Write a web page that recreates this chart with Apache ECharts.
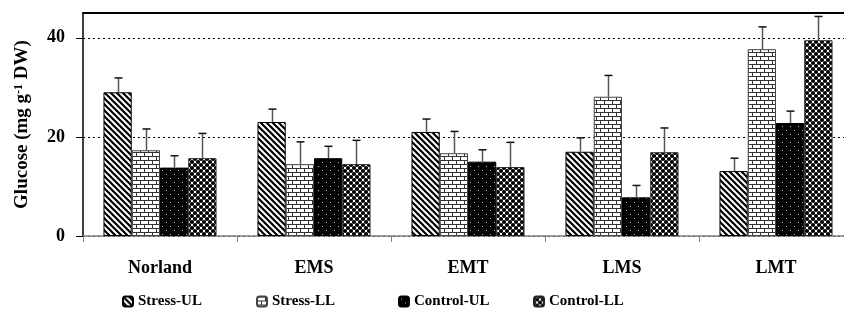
<!DOCTYPE html>
<html>
<head>
<meta charset="utf-8">
<script src="https://cdn.jsdelivr.net/npm/echarts@6/dist/echarts.min.js"></script>
<style>
  html, body { margin: 0; padding: 0; background: #fff; overflow: hidden; }
  #chart { width: 853px; height: 320px; }
</style>
</head>
<body>
<div id="chart"></div>
<script>
const categories = ['Norland', 'EMS', 'EMT', 'LMS', 'LMT'];
const seriesNames = ['Stress-UL', 'Stress-LL', 'Control-UL', 'Control-LL'];
const stressUL = [29.0, 23.0, 21.0, 17.0, 13.1];
const stressLL = [17.3, 14.5, 16.7, 28.1, 37.7];
const controlUL = [13.8, 15.7, 15.0, 7.8, 22.8];
const controlLL = [15.7, 14.5, 13.9, 16.9, 39.5];
const errStressUL = [2.9, 2.6, 2.6, 2.8, 2.6];
const errStressLL = [4.3, 4.5, 4.4, 4.3, 4.5];
const errControlUL = [2.4, 2.4, 2.4, 2.4, 2.4];
const errControlLL = [5.0, 4.8, 5.0, 4.9, 4.8];
const yTicks = [0, 20, 40];

const values = [stressUL, stressLL, controlUL, controlLL];
const errors = [errStressUL, errStressLL, errControlUL, errControlLL];

function makeTile(w, h, draw) {
  const c = document.createElement('canvas');
  c.width = w; c.height = h;
  const ctx = c.getContext('2d');
  draw(ctx, w, h);
  return c;
}
const patDiag = makeTile(6, 6, (ctx, w, h) => {
  ctx.fillStyle = '#fff'; ctx.fillRect(0, 0, w, h);
  ctx.strokeStyle = '#000'; ctx.lineWidth = 2.2;
  ctx.beginPath();
  ctx.moveTo(-1, -1); ctx.lineTo(w + 1, h + 1);
  ctx.moveTo(-1, h - 1); ctx.lineTo(1, h + 1);
  ctx.moveTo(w - 1, -1); ctx.lineTo(w + 1, 1);
  ctx.stroke();
});
const patBrick = makeTile(8, 8, (ctx, w, h) => {
  ctx.fillStyle = '#fff'; ctx.fillRect(0, 0, w, h);
  ctx.fillStyle = '#333';
  ctx.fillRect(0, 0, w, 1);
  ctx.fillRect(0, 4, w, 1);
  ctx.fillRect(0, 0, 1, 4);
  ctx.fillRect(4, 4, 1, 4);
});
const patDots = makeTile(8, 8, (ctx, w, h) => {
  ctx.fillStyle = '#000'; ctx.fillRect(0, 0, w, h);
  ctx.fillStyle = '#bbb';
  ctx.fillRect(2, 2, 1, 1);
  ctx.fillRect(6, 6, 1, 1);
});
const patCircles = makeTile(6, 6, (ctx, w, h) => {
  ctx.fillStyle = '#fff'; ctx.fillRect(0, 0, w, h);
  ctx.fillStyle = '#000';
  [[0, 0], [6, 0], [0, 6], [6, 6], [3, 3]].forEach(p => {
    ctx.beginPath(); ctx.arc(p[0], p[1], 2.1, 0, Math.PI * 2); ctx.fill();
  });
});
const patterns = [patDiag, patBrick, patDots, patCircles];
const borders = ['#000', '#444', '#000', '#222'];
const legendLeft = [117, 251, 393, 528];

const GAP = 0.266;
const chart = echarts.init(document.getElementById('chart'), null, { renderer: 'canvas' });

const barSeries = seriesNames.map((name, s) => ({
  name: name,
  type: 'bar',
  xAxisIndex: 0,
  data: values[s],
  barGap: '0%',
  barCategoryGap: (GAP * 100) + '%',
  itemStyle: { color: { image: patterns[s], repeat: 'repeat' }, borderColor: borders[s], borderWidth: 1 },
  emphasis: { disabled: true },
  z: 2
}));

const errSeries = seriesNames.map((name, s) => ({
  type: 'custom',
  xAxisIndex: 0,
  z: 3,
  silent: true,
  data: values[s].map((v, i) => [i, v, errors[s][i]]),
  renderItem: function (params, api) {
    const i = api.value(0), m = api.value(1), e = api.value(2);
    const p0 = api.coord([i, m]);
    const p1 = api.coord([i, m + e]);
    const band = api.size([1, 0])[0];
    const bw = band * (1 - GAP) / 4;
    const x = Math.round(p0[0] + (s - 1.5) * bw) + 0.5;
    return {
      type: 'group',
      children: [
        { type: 'line', shape: { x1: x, y1: p0[1], x2: x, y2: p1[1] }, style: { stroke: '#555', lineWidth: 1.5 } },
        { type: 'line', shape: { x1: x - 4, y1: p1[1], x2: x + 4, y2: p1[1] }, style: { stroke: '#111', lineWidth: 1.5 } }
      ]
    };
  }
}));

const font = 'Liberation Serif';
const legendTextStyle = { fontFamily: font, fontWeight: 'bold', fontSize: 15, color: '#000' };
chart.setOption({
  animation: false,
  backgroundColor: '#fff',
  grid: { left: 83, top: 13, right: 0, bottom: 84 },
  legend: seriesNames.map((n, s) => ({
    data: [n],
    left: legendLeft[s], top: 289,
    itemWidth: 10, itemHeight: 10,
    itemGap: 5,
    textStyle: legendTextStyle
  })),
  xAxis: [{
    type: 'category',
    data: categories,
    axisLine: { lineStyle: { color: '#808080', width: 1.5 } },
    axisTick: { show: true, length: 6, lineStyle: { color: '#808080', width: 1 } },
    axisLabel: { margin: 23, fontFamily: font, fontWeight: 'bold', fontSize: 18, color: '#000' },
    splitLine: { show: false }
  }, {
    type: 'category',
    data: categories,
    position: 'top',
    axisLine: { lineStyle: { color: '#000', width: 2 } },
    axisTick: { show: false },
    axisLabel: { show: false }
  }],
  yAxis: {
    type: 'value',
    min: 0, max: 45, interval: 20,
    name: '{a|Glucose (mg g}{s|-1}{a| DW)}',
    nameLocation: 'middle',
    nameRotate: 90,
    nameGap: 51,
    nameTextStyle: {
      rich: {
        a: { fontFamily: font, fontWeight: 'bold', fontSize: 19, color: '#000' },
        s: { fontFamily: font, fontWeight: 'bold', fontSize: 12, color: '#000', verticalAlign: 'top', padding: [0, 0, 7, 0] }
      }
    },
    axisLine: { show: true, lineStyle: { color: '#000', width: 1.5 } },
    axisTick: { show: true, length: 7, lineStyle: { color: '#000' }, customValues: yTicks },
    axisLabel: { margin: 18, fontFamily: font, fontWeight: 'bold', fontSize: 18, color: '#000', customValues: yTicks },
    splitLine: { show: true, lineStyle: { color: '#000', type: [2, 3], width: 1 } }
  },
  series: barSeries.concat(errSeries)
});
</script>
</body>
</html>
